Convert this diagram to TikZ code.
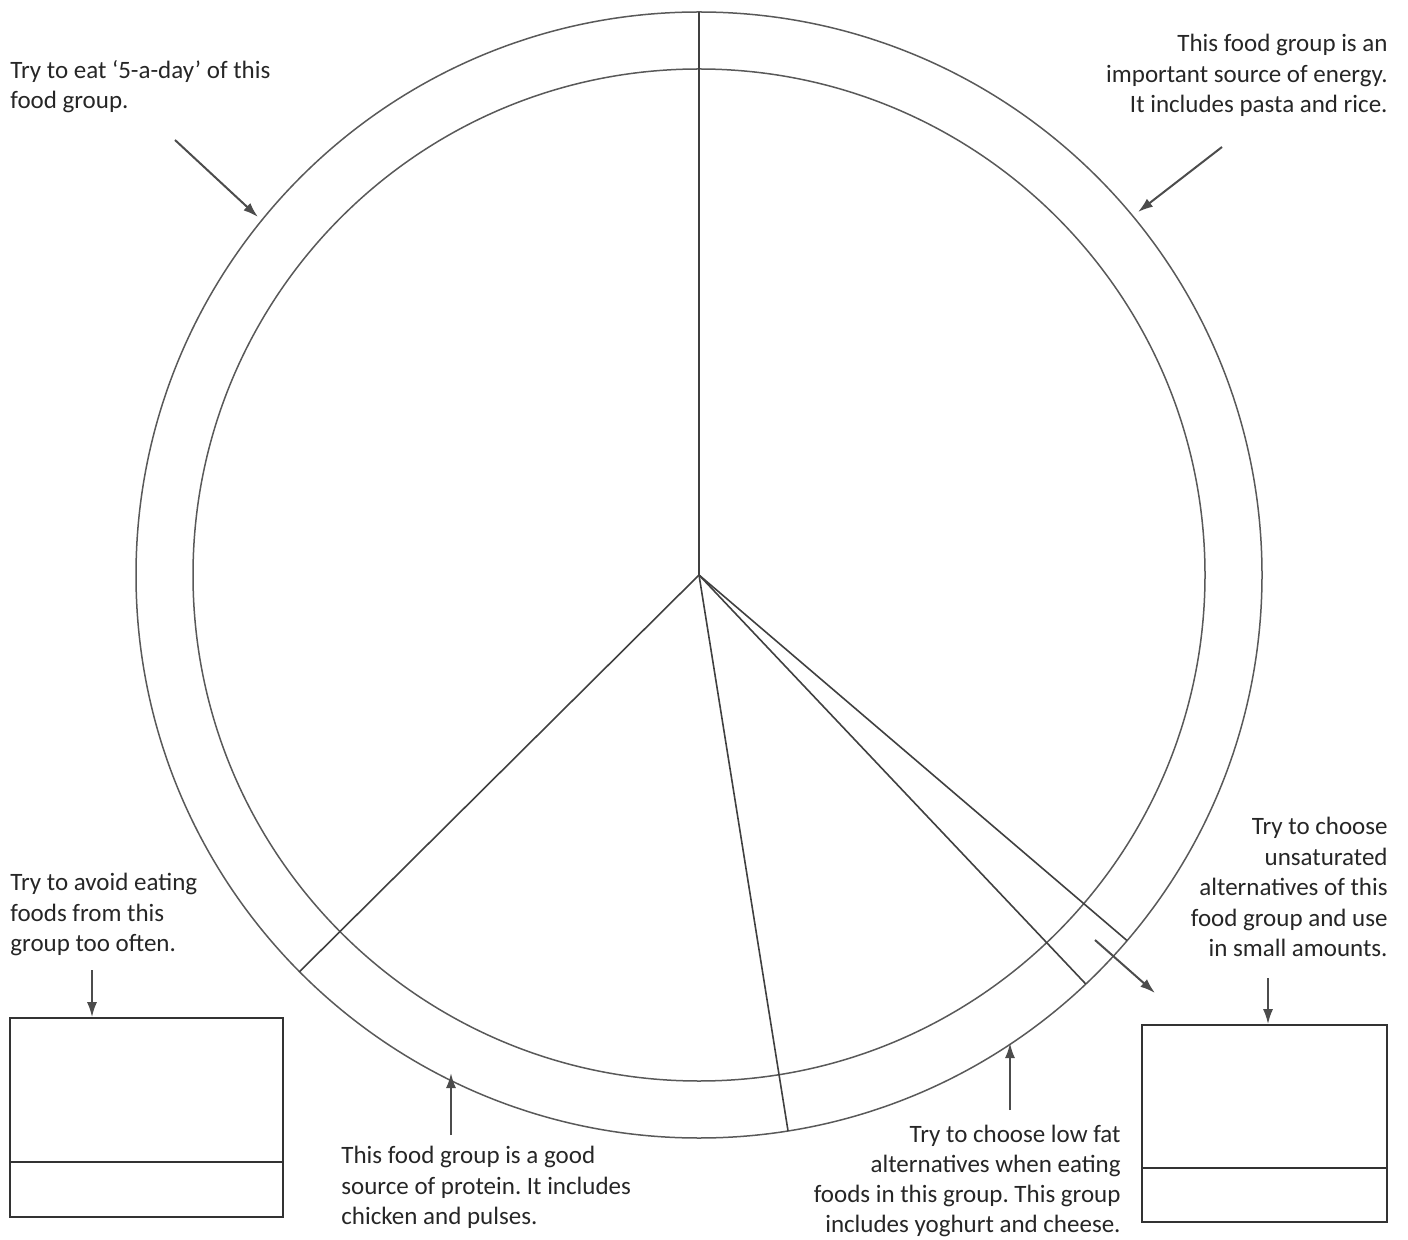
\documentclass[tikz,border=0pt]{standalone}
\usepackage{fontspec}
\setmainfont{Carlito}
\usetikzlibrary{positioning,arrows.meta,calc}

\begin{document}
\frenchspacing
\begin{tikzpicture}[x=0.5pt,y=-0.5pt,
  ring/.style={draw=black!65,line width=0.75pt},
  spoke/.style={draw=black!75,line width=0.8pt},
  pointer/.style={draw=black!70,line width=1pt,-{Latex[length=7.5pt,width=5pt]}},
  note/.style={inner sep=0pt,font=\fontsize{12.5}{15.25}\selectfont,text=black!85},
  tally/.style={draw=black!80,line width=0.8pt,inner sep=0pt}]
\useasboundingbox (0,0) rectangle (1408,1240);
\coordinate (c) at (699,575);
\draw[ring] (c) circle[radius=563];
\draw[ring] (c) circle[radius=506];
\coordinate (rimtop) at ($(c)+(-90:563)$);
\coordinate (rimprot) at ($(c)+(135.2:563)$);
\coordinate (rimdairy) at ($(c)+(80.9:563)$);
\coordinate (rimfat) at ($(c)+(46.6:563)$);
\coordinate (rimoil) at ($(c)+(40.5:563)$);
\draw[spoke] (c)--(rimtop);
\draw[spoke] (c)--(rimprot);
\draw[spoke] (c)--(rimdairy);
\draw[spoke] (c)--(rimfat);
\draw[spoke] (c)--(rimoil);

\node[note,anchor=north west,align=left] (fruit) at (10,60) {Try to eat `5-a-day' of this\\food group.};
\node[note,anchor=north east,align=right] (starch) at (1388,34) {This food group is an\\important source of energy.\\It includes pasta and rice.};
\node[note,anchor=north west,align=left] (sugar) at (10,873) {Try to avoid eating\\foods from this\\group too often.};
\node[note,anchor=north east,align=right] (oils) at (1388,817) {Try to choose\\unsaturated\\alternatives of this\\food group and use\\in small amounts.};
\node[note,anchor=north west,align=left] (protein) at (341,1146) {This food group is a good\\source of protein. It includes\\chicken and pulses.};
\node[note,anchor=north east,align=right,font=\fontsize{12.5}{15}\selectfont] (dairy) at (1121,1125) {Try to choose low fat\\alternatives when eating\\foods in this group. This group\\includes yoghurt and cheese.};

\node[tally,minimum width=136.5pt,minimum height=99.5pt] (lbox) at (146.5,1117.5) {};
\draw[tally] (lbox.west |- 0,1162)--(lbox.east |- 0,1162);
\node[tally,minimum width=122.5pt,minimum height=98.5pt] (rbox) at (1264.5,1123.5) {};
\draw[tally] (rbox.west |- 0,1168)--(rbox.east |- 0,1168);

\coordinate (p1) at (175,140);
\coordinate (t1) at (258,217);
\coordinate (p2) at (1222,147);
\coordinate (t2) at (1138,212);
\coordinate (p3) at (92,970);
\coordinate (p4) at (1095,940);
\coordinate (t4) at (1155,993);
\coordinate (p5) at (1268,978);
\coordinate (p6) at (451,1135);
\coordinate (t6) at (451,1073);
\coordinate (p7) at (1010,1110);
\coordinate (t7) at (1010,1043);
\draw[pointer] (p1)--(t1);
\draw[pointer] (p2)--(t2);
\draw[pointer] (p3)--(p3 |- lbox.north);
\draw[pointer] (p4)--(t4);
\draw[pointer] (p5)--(p5 |- rbox.north);
\draw[pointer] (p6)--(t6);
\draw[pointer] (p7)--(t7);
\end{tikzpicture}
\end{document}
